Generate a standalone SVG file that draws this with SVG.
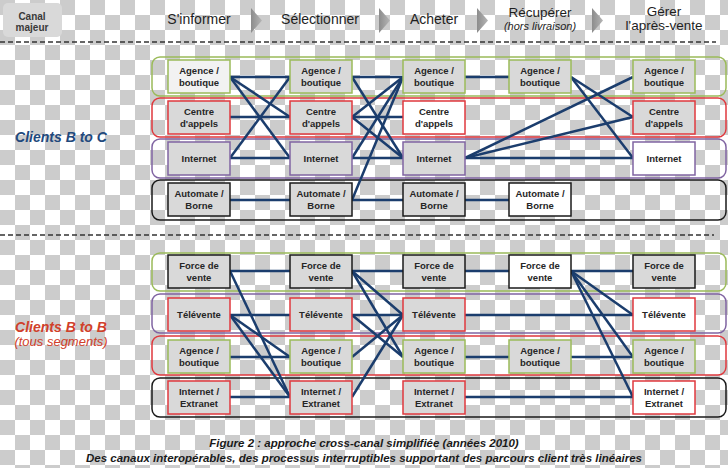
<svg xmlns="http://www.w3.org/2000/svg" width="728" height="468" viewBox="0 0 728 468">
<defs>
<pattern id="chk" width="30" height="30" patternUnits="userSpaceOnUse">
<rect width="30" height="30" fill="#ffffff"/>
<rect width="15" height="15" fill="#cccccc"/>
<rect x="15" y="15" width="15" height="15" fill="#cccccc"/>
</pattern>
<linearGradient id="arr" x1="0" y1="0" x2="1" y2="0">
<stop offset="0" stop-color="#8c8c8c"/>
<stop offset="1" stop-color="#b5b5b5"/>
</linearGradient>
</defs>
<style>
.hd{font-family:"Liberation Sans",Arial,sans-serif;font-size:14px;fill:#1e1e1e;text-anchor:middle}
.lb{font-family:"Liberation Sans",Arial,sans-serif;font-size:9.5px;font-weight:bold;fill:#262626;text-anchor:middle}
.band{fill:none;stroke-width:1.5}
.bx{stroke-width:1.5}
.g{fill:#d9d9d9}
.w{fill:#ffffff}
.sg{stroke:#9bbb59}
.sr{stroke:#e0393e}
.sp{stroke:#8064a2}
.sk{stroke:#1a1a1a}
.cn line{stroke:#1b3d6d;stroke-width:2.5}
.dash{stroke:#333;stroke-width:1.5;stroke-dasharray:5 3}
</style>
<rect width="728" height="468" fill="url(#chk)"/>

<g id="header">
<rect x="3" y="3" width="59" height="34" rx="5" fill="#d9d9d9"/>
<text class="lb" x="32" y="20" style="font-size:10px;fill:#3a3a3a">Canal</text>
<text class="lb" x="32" y="31" style="font-size:10px;fill:#3a3a3a">majeur</text>
<text class="hd" x="199" y="24">S'informer</text>
<text class="hd" x="320" y="24">Sélectionner</text>
<text class="hd" x="434" y="24">Acheter</text>
<text class="hd" x="540" y="17" style="font-size:13.5px">Récupérer</text>
<text class="hd" x="540" y="30" style="font-size:11px;font-style:italic">(hors livraison)</text>
<text class="hd" x="664" y="16" style="font-size:13.5px">Gérer</text>
<text class="hd" x="664" y="30" style="font-size:13.5px">l'après-vente</text>
<polygon points="251,8 262,20.5 251,33" fill="url(#arr)"/>
<polygon points="379,8 390,20.5 379,33" fill="url(#arr)"/>
<polygon points="477,8 488,20.5 477,33" fill="url(#arr)"/>
<polygon points="592,8 603,20.5 592,33" fill="url(#arr)"/>
</g>

<line class="dash" x1="0" y1="42" x2="716" y2="42"/>
<line class="dash" x1="0" y1="235" x2="714" y2="235"/>

<g id="segments" font-family="Liberation Sans, Arial, sans-serif" font-style="italic" text-anchor="middle">
<text x="61" y="142" font-size="14" font-weight="bold" fill="#1f497d">Clients B to C</text>
<text x="61" y="332" font-size="14" font-weight="bold" fill="#d0402a">Clients B to B</text>
<text x="61" y="346" font-size="13" fill="#d0402a">(tous segments)</text>
</g>

<g id="bands">
<rect class="band sg" x="152" y="57" width="574" height="39" rx="8"/>
<rect class="band sr" x="152" y="98" width="574" height="39" rx="8"/>
<rect class="band sp" x="152" y="139" width="574" height="39" rx="8"/>
<rect class="band sk" x="152" y="180" width="574" height="40" rx="8"/>
<rect class="band sg" x="152" y="253" width="574" height="38" rx="8"/>
<rect class="band sp" x="152" y="294" width="574" height="39" rx="8"/>
<rect class="band sr" x="152" y="336" width="574" height="39" rx="8"/>
<rect class="band sk" x="152" y="378" width="574" height="39" rx="8"/>
</g>

<g id="connectors" class="cn">
<line x1="230" y1="77" x2="290" y2="77"/>
<line x1="230" y1="77" x2="290" y2="117"/>
<line x1="230" y1="77" x2="290" y2="158"/>
<line x1="230" y1="117" x2="290" y2="117"/>
<line x1="230" y1="158" x2="290" y2="77"/>
<line x1="230" y1="158" x2="290" y2="158"/>
<line x1="230" y1="200" x2="290" y2="200"/>
<line x1="352" y1="77" x2="403" y2="77"/>
<line x1="352" y1="77" x2="403" y2="158"/>
<line x1="352" y1="117" x2="403" y2="77"/>
<line x1="352" y1="117" x2="403" y2="117"/>
<line x1="352" y1="117" x2="403" y2="158"/>
<line x1="352" y1="158" x2="403" y2="77"/>
<line x1="352" y1="158" x2="403" y2="158"/>
<line x1="352" y1="200" x2="403" y2="77"/>
<line x1="352" y1="200" x2="403" y2="200"/>
<line x1="465" y1="77" x2="509" y2="77"/>
<line x1="465" y1="200" x2="509" y2="200"/>
<line x1="465" y1="158" x2="633" y2="77"/>
<line x1="465" y1="158" x2="633" y2="117"/>
<line x1="465" y1="158" x2="633" y2="158"/>
<line x1="571" y1="77" x2="633" y2="117"/>
<line x1="571" y1="77" x2="633" y2="158"/>

<line x1="230" y1="271" x2="290" y2="271"/>
<line x1="230" y1="271" x2="290" y2="397"/>
<line x1="230" y1="315" x2="290" y2="315"/>
<line x1="230" y1="315" x2="290" y2="357"/>
<line x1="230" y1="315" x2="290" y2="397"/>
<line x1="230" y1="357" x2="290" y2="357"/>
<line x1="230" y1="397" x2="290" y2="397"/>
<line x1="352" y1="271" x2="403" y2="271"/>
<line x1="352" y1="271" x2="403" y2="315"/>
<line x1="352" y1="271" x2="403" y2="357"/>
<line x1="352" y1="315" x2="403" y2="315"/>
<line x1="352" y1="315" x2="403" y2="357"/>
<line x1="352" y1="357" x2="403" y2="315"/>
<line x1="352" y1="397" x2="403" y2="315"/>
<line x1="465" y1="271" x2="509" y2="271"/>
<line x1="465" y1="315" x2="633" y2="315"/>
<line x1="465" y1="357" x2="509" y2="357"/>
<line x1="465" y1="397" x2="633" y2="397"/>
<line x1="571" y1="271" x2="633" y2="271"/>
<line x1="571" y1="271" x2="633" y2="315"/>
<line x1="571" y1="271" x2="633" y2="357"/>
<line x1="571" y1="271" x2="633" y2="397"/>
<line x1="571" y1="357" x2="633" y2="357"/>
</g>

<!-- B to C -->
<g id="c1-agence"><rect class="bx sg" x="168" y="60" width="62" height="33" fill="#f2f2f2"/><text class="lb" x="199" y="74">Agence /</text><text class="lb" x="199" y="86">boutique</text></g>
<g id="c1-centre"><rect class="bx g sr" x="168" y="101" width="62" height="33"/><text class="lb" x="199" y="115">Centre</text><text class="lb" x="199" y="127">d'appels</text></g>
<g id="c1-internet"><rect class="bx g sp" x="168" y="142" width="62" height="33"/><text class="lb" x="199" y="162">Internet</text></g>
<g id="c1-automate"><rect class="bx g sk" x="168" y="183" width="62" height="33"/><text class="lb" x="199" y="197">Automate /</text><text class="lb" x="199" y="209">Borne</text></g>

<g id="c2-agence"><rect class="bx g sg" x="290" y="60" width="62" height="33"/><text class="lb" x="321" y="74">Agence /</text><text class="lb" x="321" y="86">boutique</text></g>
<g id="c2-centre"><rect class="bx g sr" x="290" y="101" width="62" height="33"/><text class="lb" x="321" y="115">Centre</text><text class="lb" x="321" y="127">d'appels</text></g>
<g id="c2-internet"><rect class="bx g sp" x="290" y="142" width="62" height="33"/><text class="lb" x="321" y="162">Internet</text></g>
<g id="c2-automate"><rect class="bx g sk" x="290" y="183" width="62" height="33"/><text class="lb" x="321" y="197">Automate /</text><text class="lb" x="321" y="209">Borne</text></g>

<g id="c3-agence"><rect class="bx g sg" x="403" y="60" width="62" height="33"/><text class="lb" x="434" y="74">Agence /</text><text class="lb" x="434" y="86">boutique</text></g>
<g id="c3-centre"><rect class="bx w sr" x="403" y="101" width="62" height="33"/><text class="lb" x="434" y="115">Centre</text><text class="lb" x="434" y="127">d'appels</text></g>
<g id="c3-internet"><rect class="bx g sp" x="403" y="142" width="62" height="33"/><text class="lb" x="434" y="162">Internet</text></g>
<g id="c3-automate"><rect class="bx g sk" x="403" y="183" width="62" height="33"/><text class="lb" x="434" y="197">Automate /</text><text class="lb" x="434" y="209">Borne</text></g>

<g id="c4-agence"><rect class="bx g sg" x="509" y="60" width="62" height="33"/><text class="lb" x="540" y="74">Agence /</text><text class="lb" x="540" y="86">boutique</text></g>
<g id="c4-automate"><rect class="bx w sk" x="509" y="183" width="62" height="33"/><text class="lb" x="540" y="197">Automate /</text><text class="lb" x="540" y="209">Borne</text></g>

<g id="c5-agence"><rect class="bx g sg" x="633" y="60" width="62" height="33"/><text class="lb" x="664" y="74">Agence /</text><text class="lb" x="664" y="86">boutique</text></g>
<g id="c5-centre"><rect class="bx g sr" x="633" y="101" width="62" height="33"/><text class="lb" x="664" y="115">Centre</text><text class="lb" x="664" y="127">d'appels</text></g>
<g id="c5-internet"><rect class="bx w sp" x="633" y="142" width="62" height="33"/><text class="lb" x="664" y="162">Internet</text></g>

<!-- B to B -->
<g id="b1-force"><rect class="bx g sk" x="168" y="255" width="62" height="33"/><text class="lb" x="199" y="269">Force de</text><text class="lb" x="199" y="281">vente</text></g>
<g id="b1-tele"><rect class="bx g sr" x="168" y="298" width="62" height="33"/><text class="lb" x="199" y="318">Télévente</text></g>
<g id="b1-agence"><rect class="bx g sg" x="168" y="340" width="62" height="33"/><text class="lb" x="199" y="354">Agence /</text><text class="lb" x="199" y="366">boutique</text></g>
<g id="b1-internet"><rect class="bx g sr" x="168" y="381" width="62" height="33"/><text class="lb" x="199" y="395">Internet /</text><text class="lb" x="199" y="407">Extranet</text></g>

<g id="b2-force"><rect class="bx g sk" x="290" y="255" width="62" height="33"/><text class="lb" x="321" y="269">Force de</text><text class="lb" x="321" y="281">vente</text></g>
<g id="b2-tele"><rect class="bx g sr" x="290" y="298" width="62" height="33"/><text class="lb" x="321" y="318">Télévente</text></g>
<g id="b2-agence"><rect class="bx g sg" x="290" y="340" width="62" height="33"/><text class="lb" x="321" y="354">Agence /</text><text class="lb" x="321" y="366">boutique</text></g>
<g id="b2-internet"><rect class="bx g sr" x="290" y="381" width="62" height="33"/><text class="lb" x="321" y="395">Internet /</text><text class="lb" x="321" y="407">Extranet</text></g>

<g id="b3-force"><rect class="bx g sk" x="403" y="255" width="62" height="33"/><text class="lb" x="434" y="269">Force de</text><text class="lb" x="434" y="281">vente</text></g>
<g id="b3-tele"><rect class="bx g sr" x="403" y="298" width="62" height="33"/><text class="lb" x="434" y="318">Télévente</text></g>
<g id="b3-agence"><rect class="bx g sg" x="403" y="340" width="62" height="33"/><text class="lb" x="434" y="354">Agence /</text><text class="lb" x="434" y="366">boutique</text></g>
<g id="b3-internet"><rect class="bx g sr" x="403" y="381" width="62" height="33"/><text class="lb" x="434" y="395">Internet /</text><text class="lb" x="434" y="407">Extranet</text></g>

<g id="b4-force"><rect class="bx w sk" x="509" y="255" width="62" height="33"/><text class="lb" x="540" y="269">Force de</text><text class="lb" x="540" y="281">vente</text></g>
<g id="b4-agence"><rect class="bx g sg" x="509" y="340" width="62" height="33"/><text class="lb" x="540" y="354">Agence /</text><text class="lb" x="540" y="366">boutique</text></g>

<g id="b5-force"><rect class="bx g sk" x="633" y="255" width="62" height="33"/><text class="lb" x="664" y="269">Force de</text><text class="lb" x="664" y="281">vente</text></g>
<g id="b5-tele"><rect class="bx w sr" x="633" y="298" width="62" height="33"/><text class="lb" x="664" y="318">Télévente</text></g>
<g id="b5-agence"><rect class="bx g sg" x="633" y="340" width="62" height="33"/><text class="lb" x="664" y="354">Agence /</text><text class="lb" x="664" y="366">boutique</text></g>
<g id="b5-internet"><rect class="bx w sr" x="633" y="381" width="62" height="33"/><text class="lb" x="664" y="395">Internet /</text><text class="lb" x="664" y="407">Extranet</text></g>

<g id="caption" font-family="Liberation Sans, Arial, sans-serif" font-style="italic" font-weight="bold" font-size="11.5" fill="#1a1a1a" text-anchor="middle">
<text x="364" y="447">Figure 2 : approche cross-canal simplifiée (années 2010)</text>
<text x="364" y="462">Des canaux interopérables, des processus interruptibles supportant des parcours client très linéaires</text>
</g>
</svg>
